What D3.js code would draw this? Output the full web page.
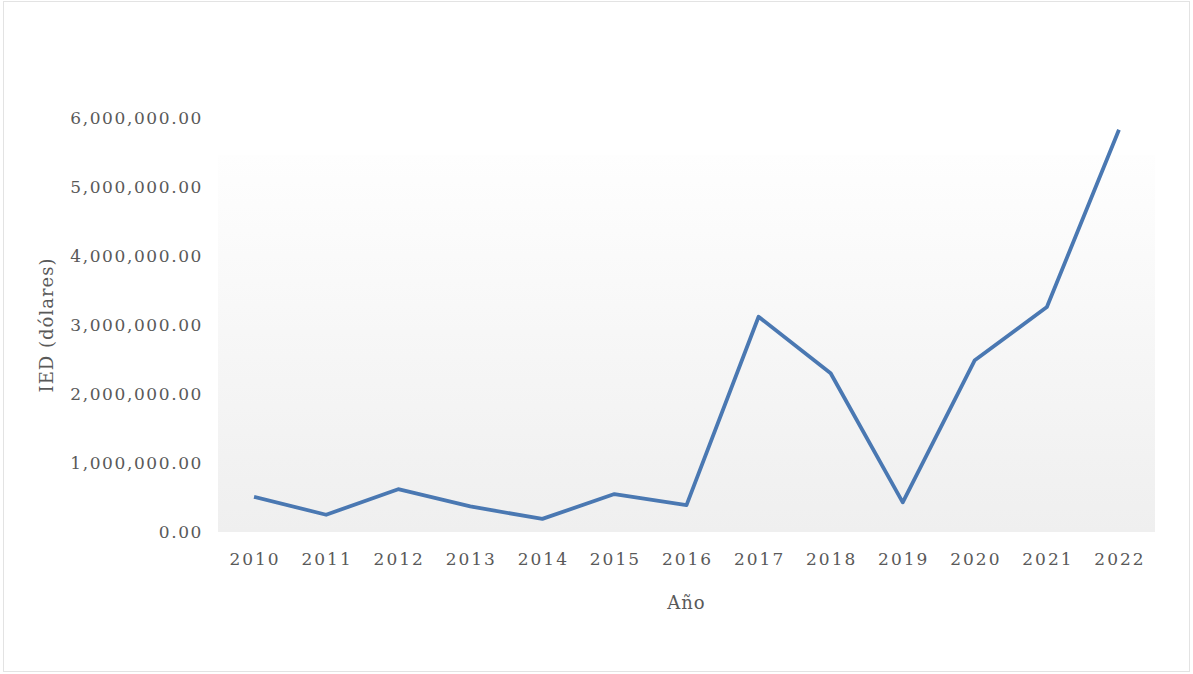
<!DOCTYPE html>
<html>
<head>
<meta charset="utf-8">
<script src="https://cdn.jsdelivr.net/npm/d3@7"></script>
<style>
  body { margin: 0; background: #fff; }
  text { font-family: "DejaVu Serif", serif; fill: #595959; }
</style>
</head>
<body>
<div id="chart"></div>
<script>
var years = ["2010", "2011", "2012", "2013", "2014", "2015", "2016", "2017", "2018", "2019", "2020", "2021", "2022"];
var ied = [510000, 250000, 620000, 370000, 190000, 550000, 390000, 3120000, 2300000, 430000, 2490000, 3260000, 5830000];
var yTicks = [0, 1000000, 2000000, 3000000, 4000000, 5000000, 6000000];

var W = 1193, H = 674;
var margin = {top: 118, right: 38, bottom: 142, left: 218};
var width = W - margin.left - margin.right,
    height = H - margin.top - margin.bottom;

var svg = d3.select("#chart").append("svg")
    .attr("width", W)
    .attr("height", H);

// chart border
svg.append("rect")
    .attr("x", 3.5).attr("y", 1.5)
    .attr("width", W - 7).attr("height", H - 4)
    .attr("fill", "#fff")
    .attr("stroke", "#e3e3e3");

var grad = svg.append("defs").append("linearGradient")
    .attr("id", "bg").attr("x1", 0).attr("y1", 0).attr("x2", 0).attr("y2", 1);
grad.append("stop").attr("offset", "0%").attr("stop-color", "#fefefe");
grad.append("stop").attr("offset", "100%").attr("stop-color", "#efefef");

var g = svg.append("g")
    .attr("transform", "translate(" + margin.left + "," + margin.top + ")");

var x = d3.scaleBand().domain(years).range([0, width]);
var y = d3.scaleLinear().domain([0, 6000000]).range([height, 0]);

// plot area fill
g.append("rect")
    .attr("x", 0)
    .attr("y", 37)
    .attr("width", width)
    .attr("height", height - 37)
    .attr("fill", "url(#bg)");

var fmt = d3.format(",.2f");

var yAxis = g.append("g")
    .attr("transform", "translate(-12,0)")
    .call(d3.axisLeft(y).tickValues(yTicks).tickSize(0).tickFormat(fmt));
yAxis.select(".domain").remove();
yAxis.selectAll("text")
    .style("font-family", "DejaVu Serif, serif")
    .style("font-size", "17px")
    .style("letter-spacing", "1.6px")
    .attr("fill", "#595959");

var xAxis = g.append("g")
    .attr("transform", "translate(1," + height + ")")
    .call(d3.axisBottom(x).tickSize(0).tickPadding(21));
xAxis.select(".domain").remove();
xAxis.selectAll("text")
    .style("font-family", "DejaVu Serif, serif")
    .style("font-size", "17px")
    .style("letter-spacing", "2px")
    .attr("fill", "#595959");

var line = d3.line()
    .x(function(d, i) { return x(years[i]) + x.bandwidth() / 2; })
    .y(function(d) { return y(d); });

g.append("path")
    .datum(ied)
    .attr("d", line)
    .attr("fill", "none")
    .attr("stroke", "#4a78b2")
    .attr("stroke-width", 3.8)
    .attr("stroke-linejoin", "round");

svg.append("text")
    .attr("x", margin.left + width / 2)
    .attr("y", 609)
    .attr("text-anchor", "middle")
    .style("font-size", "18px")
    .style("letter-spacing", "1px")
    .text("Año");

svg.append("text")
    .attr("transform", "translate(53," + (margin.top + height / 2) + ") rotate(-90)")
    .attr("text-anchor", "middle")
    .style("font-size", "18px")
    .style("letter-spacing", "1px")
    .text("IED (dólares)");
</script>
</body>
</html>
